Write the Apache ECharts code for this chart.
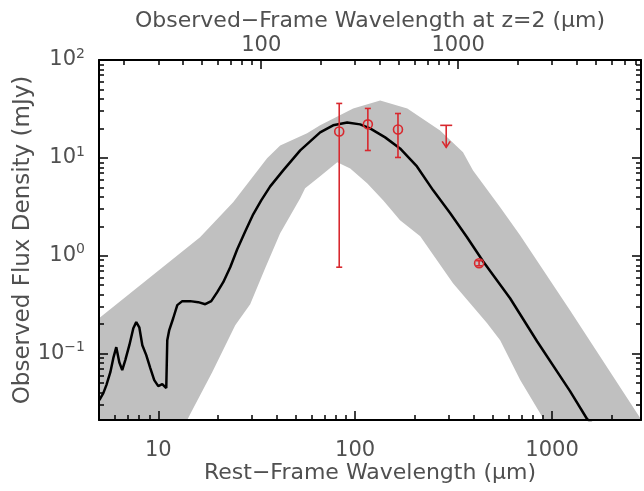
<!DOCTYPE html>
<html>
<head>
<meta charset="utf-8">
<script src="https://cdn.jsdelivr.net/npm/echarts@6/dist/echarts.min.js"></script>
<style>
  html, body { margin: 0; padding: 0; background: #fff; }
  #chart { width: 644px; height: 491px; }
</style>
</head>
<body>
<div id="chart"></div>
<script>
// SED template (rest-frame wavelength in um, flux in mJy)
const sedWave = [5.02, 5.26, 5.45, 5.71, 5.91, 6.12, 6.34, 6.56, 6.80, 7.13, 7.47, 7.73, 8.01, 8.30, 8.69, 9.11, 9.54, 10.0, 10.48, 10.98,
  11.11, 11.37, 11.91, 12.49, 13.24, 14.52, 15.95, 17.33, 18.58, 19.93, 21.38, 23.2, 25.18, 27.67, 30.35, 33.33, 37.03, 43.1, 52.6, 59.1,
  66.4, 77.3, 91.1, 106, 119, 142, 169, 206, 249, 304, 370, 446, 612, 839, 1234, 1506, 1753];
const sedFlux = [0.0336, 0.0395, 0.0477, 0.0647, 0.090, 0.1165, 0.0818, 0.0679, 0.0859, 0.122, 0.182, 0.210, 0.186, 0.122, 0.0966, 0.0712, 0.0537, 0.0466, 0.0488, 0.0445,
  0.137, 0.174, 0.230, 0.313, 0.344, 0.344, 0.336, 0.320, 0.344, 0.425, 0.537, 0.764, 1.165, 1.778, 2.652, 3.68, 5.12, 7.45, 11.93, 14.73,
  18.2, 21.5, 23.0, 22.0, 20.0, 16.2, 12.5, 8.18, 4.66, 2.72, 1.547, 0.879, 0.368, 0.134, 0.0414, 0.0215, 0.0166];

// grey range of templates
const bandUpWave = [4.52, 16.3, 24.0, 35.7, 41.6, 57.0, 66.4, 97.7, 134, 184, 270, 353, 397, 545, 688, 1233, 3140];
const bandUpFlux = [0.195, 1.546, 3.52, 9.89, 13.4, 17.8, 21.5, 32.0, 38.6, 32.0, 19.1, 11.4, 7.45, 3.13, 1.62, 0.278, 0.0155];
const bandLoWave = [4.5, 12.93, 14.54, 18.79, 24.6, 29.3, 34.9, 41.6, 52.6, 55.7, 66.4, 81.1, 94.4, 115, 139, 169, 214, 314, 468, 545, 689, 899, 977];
const bandLoFlux = [0.015, 0.0151, 0.0242, 0.0647, 0.1954, 0.32, 0.744, 1.70, 3.87, 4.89, 6.48, 9.0, 7.81, 5.50, 3.68, 2.30, 1.58, 0.524, 0.205, 0.137, 0.0537, 0.0220, 0.0158];

// photometry
const ptWave = [83, 116, 165, 426];
const ptFlux = [18.6, 22.0, 19.5, 0.84];
const ptLow = [0.764, 11.9, 10.1, 0.79];
const ptHigh = [36.0, 32.0, 28.4, 0.89];
const limWave = [290];
const limFlux = [21.5];

// axes
const redshift = 2;
const restTicks = [10, 100, 1000];
const obsTicks = [100, 1000];
const fluxTicks = [0.1, 1, 10, 100];

const lg = Math.log10;
const xMin = lg(5), xMax = lg(2830);
const yMin = lg(0.021), yMax = 2;
const red = '#d8282e';
const txt = '#505050';
const font = 'DejaVu Sans';

function minorTicks(lo, hi, div) {
  const out = [];
  for (let n = -3; n <= 5; n++) {
    for (let k = 2; k <= 9; k++) {
      const v = lg(k * Math.pow(10, n) / div);
      if (v > lo && v < hi) out.push(v);
    }
  }
  return out;
}

const bottomMajor = restTicks.map(lg);
const topMajor = obsTicks.map(v => lg(v / (1 + redshift)));
const yMajor = fluxTicks.map(lg);

const chart = echarts.init(document.getElementById('chart'));

const tickStyle = { color: '#000', width: 1.5 };
const frameLine = { show: true, onZero: false, lineStyle: { color: '#000', width: 2 } };
const noLine = { show: false, onZero: false };

function xAx(pos, major, ticks, len, extra) {
  return Object.assign({
    type: 'value', position: pos, min: xMin, max: xMax, z: 10,
    axisLine: major ? frameLine : noLine,
    axisTick: { inside: true, length: len, customValues: ticks, lineStyle: tickStyle },
    axisLabel: { show: false },
    splitLine: { show: false }
  }, extra || {});
}
function yAx(pos, major, ticks, len, extra) {
  return Object.assign({
    type: 'value', position: pos, min: yMin, max: yMax, z: 10,
    axisLine: major ? frameLine : noLine,
    axisTick: { inside: true, length: len, customValues: ticks, lineStyle: tickStyle },
    axisLabel: { show: false },
    splitLine: { show: false }
  }, extra || {});
}

const labelFont = { fontSize: 21, color: txt, fontFamily: font };
const nameFont = { fontSize: 22, color: txt, fontFamily: font };

let option = {
  animation: false,
  backgroundColor: '#fff',
  grid: { left: 99, right: 3, top: 60, bottom: 71, containLabel: false, outerBoundsMode: 'none' },
  xAxis: [
    xAx('bottom', true, bottomMajor, 9, {
      name: 'Rest\u2212Frame Wavelength (\u03bcm)', nameLocation: 'middle', nameGap: 42,
      nameMoveOverlap: false,
      nameTextStyle: nameFont,
      axisLabel: Object.assign({ show: true, customValues: bottomMajor, margin: 20,
        formatter: v => String(Math.round(Math.pow(10, v))) }, labelFont)
    }),
    xAx('bottom', false, minorTicks(xMin, xMax, 1), 5),
    xAx('top', true, topMajor, 9, {
      name: 'Observed\u2212Frame Wavelength at z=2 (\u03bcm)', nameLocation: 'middle', nameGap: 28,
      nameMoveOverlap: false,
      nameTextStyle: nameFont,
      axisLabel: Object.assign({ show: true, customValues: topMajor, margin: 4,
        formatter: v => String(Math.round((1 + redshift) * Math.pow(10, v))) }, labelFont)
    }),
    xAx('top', false, minorTicks(xMin, xMax, 1 + redshift), 5)
  ],
  yAxis: [
    yAx('left', true, yMajor, 9, {
      name: 'Observed Flux Density (mJy)', nameLocation: 'middle', nameGap: 64,
      nameMoveOverlap: false,
      nameTextStyle: { fontSize: 23, color: txt, fontFamily: font },
      axisLabel: {
        show: true, customValues: yMajor, margin: 14,
        formatter: v => {
          const e = Math.round(v);
          return '{b|10}{s|' + (e < 0 ? '\u2212' + (-e) : e) + '}';
        },
        rich: {
          b: { fontSize: 21, color: txt, fontFamily: font, lineHeight: 26 },
          s: { fontSize: 14, color: txt, fontFamily: font, verticalAlign: 'top' }
        }
      }
    }),
    yAx('left', false, minorTicks(yMin, yMax, 1), 5),
    yAx('right', true, yMajor, 9),
    yAx('right', false, minorTicks(yMin, yMax, 1), 5)
  ],
  series: [
    {
      // template range
      type: 'custom',
      clip: true,
      z: 1,
      data: [[xMin, yMin]],
      renderItem: function (params, api) {
        const pts = [];
        bandUpWave.forEach((w, i) => pts.push(api.coord([lg(w), lg(bandUpFlux[i])])));
        for (let i = bandLoWave.length - 1; i >= 0; i--) {
          pts.push(api.coord([lg(bandLoWave[i]), lg(bandLoFlux[i])]));
        }
        return { type: 'polygon', shape: { points: pts }, style: { fill: '#c0c0c0', stroke: null } };
      }
    },
    {
      type: 'line',
      z: 3,
      showSymbol: false,
      data: sedWave.map((w, i) => [lg(w), lg(sedFlux[i])]),
      lineStyle: { color: '#000', width: 2.5 },
      itemStyle: { color: '#000' }
    },
    {
      // detections with error bars
      type: 'custom',
      clip: true,
      z: 5,
      data: ptWave.map((w, i) => [lg(w), lg(ptFlux[i]), lg(ptLow[i]), lg(ptHigh[i])]),
      renderItem: function (params, api) {
        const x = api.value(0);
        const p = api.coord([x, api.value(1)]);
        const lo = api.coord([x, api.value(2)]);
        const hi = api.coord([x, api.value(3)]);
        const st = { stroke: red, lineWidth: 1.6, fill: null };
        return {
          type: 'group',
          children: [
            { type: 'line', shape: { x1: lo[0], y1: lo[1], x2: hi[0], y2: hi[1] }, style: st },
            { type: 'line', shape: { x1: lo[0] - 3, y1: lo[1], x2: lo[0] + 3, y2: lo[1] }, style: st },
            { type: 'line', shape: { x1: hi[0] - 3, y1: hi[1], x2: hi[0] + 3, y2: hi[1] }, style: st },
            { type: 'circle', shape: { cx: p[0], cy: p[1], r: 4.5 }, style: st }
          ]
        };
      }
    },
    {
      // upper limit
      type: 'custom',
      clip: true,
      z: 5,
      data: limWave.map((w, i) => [lg(w), lg(limFlux[i])]),
      renderItem: function (params, api) {
        const p = api.coord([api.value(0), api.value(1)]);
        const st = { stroke: red, lineWidth: 1.6, fill: null };
        const tip = p[1] + 22;
        return {
          type: 'group',
          children: [
            { type: 'line', shape: { x1: p[0] - 6, y1: p[1], x2: p[0] + 6, y2: p[1] }, style: st },
            { type: 'line', shape: { x1: p[0], y1: p[1], x2: p[0], y2: tip }, style: st },
            { type: 'polyline', shape: { points: [[p[0] - 4, tip - 6], [p[0], tip], [p[0] + 4, tip - 6]] }, style: st }
          ]
        };
      }
    }
  ]
};

option && chart.setOption(option);
</script>
</body>
</html>
